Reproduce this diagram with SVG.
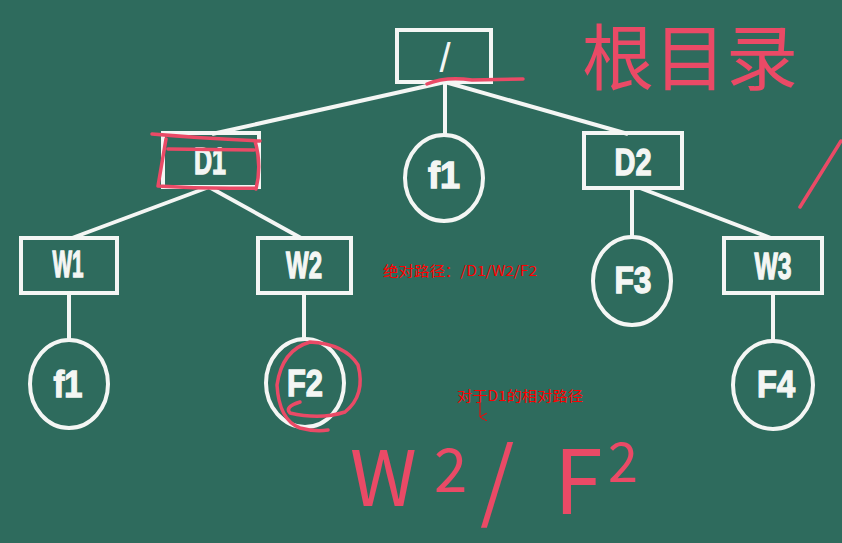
<svg xmlns="http://www.w3.org/2000/svg" width="842" height="543" viewBox="0 0 842 543">
<defs>
<style>
.box{fill:none;stroke:#f4f6f4;stroke-width:4}
.lbl{fill:#f4f6f4;stroke:#f4f6f4;stroke-width:1.3;font-family:"Liberation Sans","DejaVu Sans",sans-serif;font-weight:bold;font-size:36px;text-anchor:middle}
.edge{stroke:#f4f6f4;stroke-width:4;fill:none}
.ink{fill:none;stroke:#ea4a66;stroke-width:3.5;stroke-linecap:round;stroke-linejoin:round}
.hand{fill:#ea4a66;font-family:"Noto Sans CJK SC","Liberation Sans",sans-serif}
.note{fill:#ff0000;font-family:"Noto Sans CJK SC","Liberation Mono",monospace;font-size:14px}
</style>
<marker id="arr" markerWidth="8" markerHeight="8" refX="4" refY="7" orient="auto" markerUnits="userSpaceOnUse">
<path d="M0,0 L4,7 L8,0" fill="none" stroke="#ff0000" stroke-width="1"/>
</marker>
</defs>
<rect width="842" height="543" fill="#2e6b5d"/>
<g id="connectors">
<line class="edge" x1="445" y1="82" x2="212" y2="134"/>
<line class="edge" x1="445" y1="82" x2="445" y2="136"/>
<line class="edge" x1="445" y1="82" x2="628" y2="134"/>
<line class="edge" x1="209" y1="187" x2="72" y2="238"/>
<line class="edge" x1="209" y1="187" x2="301" y2="238"/>
<line class="edge" x1="69" y1="293" x2="69" y2="341"/>
<line class="edge" x1="304" y1="293" x2="304" y2="340"/>
<line class="edge" x1="632" y1="188" x2="632" y2="238"/>
<line class="edge" x1="640" y1="188" x2="771" y2="238"/>
<line class="edge" x1="773" y1="293" x2="773" y2="342"/>
</g>
<g id="root"><rect class="box" x="397" y="30" width="94" height="52"/><text x="445" y="72" fill="#f4f6f4" font-family="Liberation Sans,sans-serif" font-size="40" text-anchor="middle">/</text></g>
<g id="D1"><rect class="box" x="163" y="133" width="96" height="54"/><text class="lbl" x="210" y="174" textLength="32" lengthAdjust="spacingAndGlyphs">D1</text></g>
<g id="f1_root"><ellipse class="box" cx="444" cy="178" rx="39" ry="43"/><text class="lbl" x="444" y="188" textLength="32" lengthAdjust="spacingAndGlyphs">f1</text></g>
<g id="D2"><rect class="box" x="584" y="133" width="98" height="55"/><text class="lbl" x="633" y="175" textLength="37" lengthAdjust="spacingAndGlyphs">D2</text></g>
<g id="W1"><rect class="box" x="21" y="238" width="96" height="55"/><text class="lbl" x="68" y="277" textLength="31" lengthAdjust="spacingAndGlyphs">W1</text></g>
<g id="W2"><rect class="box" x="258" y="238" width="93" height="55"/><text class="lbl" x="304" y="278" textLength="36" lengthAdjust="spacingAndGlyphs">W2</text></g>
<g id="W3"><rect class="box" x="724" y="238" width="98" height="55"/><text class="lbl" x="773" y="279" textLength="37" lengthAdjust="spacingAndGlyphs">W3</text></g>
<g id="F3"><ellipse class="box" cx="632" cy="281" rx="39" ry="44"/><text class="lbl" x="633" y="293" textLength="37" lengthAdjust="spacingAndGlyphs">F3</text></g>
<g id="f1_W1"><ellipse class="box" cx="69" cy="384" rx="39" ry="44"/><text class="lbl" x="68" y="397" textLength="29" lengthAdjust="spacingAndGlyphs">f1</text></g>
<g id="F2"><ellipse class="box" cx="305" cy="383" rx="39" ry="44"/><text class="lbl" x="305" y="396" textLength="36" lengthAdjust="spacingAndGlyphs">F2</text></g>
<g id="F4"><ellipse class="box" cx="773" cy="385" rx="40" ry="44"/><text class="lbl" x="776" y="397" textLength="38" lengthAdjust="spacingAndGlyphs">F4</text></g>
<g id="annotations">
<path class="ink" d="M427,84 Q446,76 472,80 L523,79"/>
<path class="ink" d="M152,134 Q200,138 260,141 M166,139 L158,186 Q205,189 255,188 M255,141 Q262,165 256,189 M168,149 L254,150"/>
<path class="ink" d="M300,402 Q284,407 290,413 Q320,420 345,412 Q366,395 358,365 Q345,344 310,342 Q282,350 277,385 Q279,420 300,428 Q315,432 328,430"/>
<line class="ink" x1="841" y1="141" x2="800" y2="207"/>
<text class="hand" x="582" y="84" font-size="72">根目录</text>
<text class="hand" font-family="Liberation Sans,sans-serif" font-size="76"><tspan x="350" y="506">W</tspan><tspan x="434" y="492" font-size="60">2</tspan><tspan x="480" y="512" font-size="88">/</tspan><tspan x="554" y="514" font-size="88">F</tspan><tspan x="608" y="482" font-size="54">2</tspan></text>
<text class="note" x="383" y="276" textLength="154" lengthAdjust="spacingAndGlyphs">绝对路径：/D1/W2/F2</text>
<text class="note" x="457" y="401" textLength="126" lengthAdjust="spacingAndGlyphs">对于D1的相对路径</text>
<line x1="480" y1="402" x2="480" y2="417" stroke="#ff0000" stroke-width="1" marker-end="url(#arr)"/>
</g>
</svg>
